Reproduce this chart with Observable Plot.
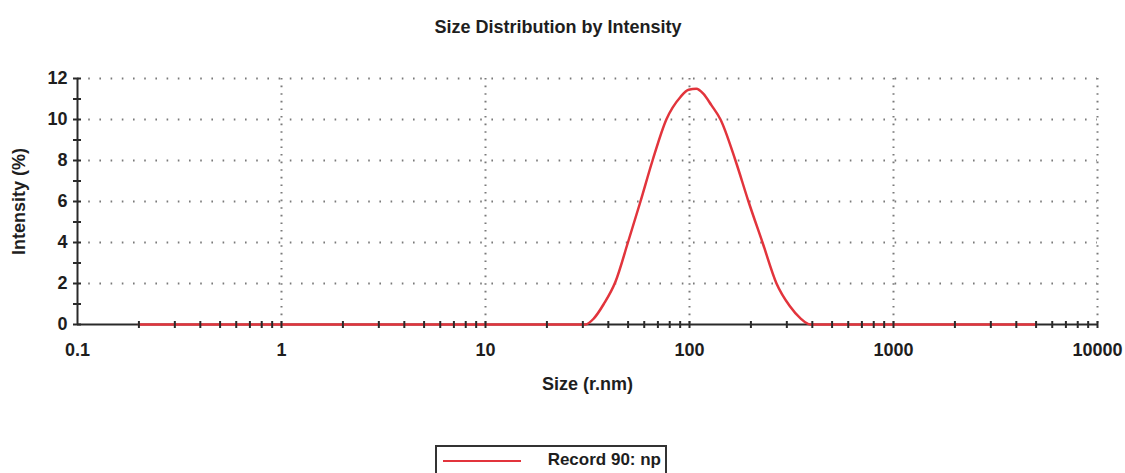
<!DOCTYPE html>
<html>
<head>
<meta charset="utf-8">
<script src="https://cdn.jsdelivr.net/npm/d3@7"></script>
<script src="https://cdn.jsdelivr.net/npm/@observablehq/plot@0.6"></script>
<style>
  html, body { margin: 0; padding: 0; background: #fff; }
  #wrap { position: relative; width: 1125px; height: 473px; overflow: hidden; font-family: "Liberation Sans", Arial, sans-serif; color: #1e1e1e; }
  #title { position: absolute; left: 0; top: 17px; width: 1116px; text-align: center; font-weight: bold; font-size: 18px; }
  #legend { position: absolute; left: 435px; top: 445px; width: 232px; height: 34px; border: 2px solid #333; box-sizing: border-box; }
  #legend .swatch { position: absolute; left: 6px; top: 13px; width: 78px; height: 0; border-top: 2.5px solid #e2343c; }
  #legend .lab { position: absolute; right: 4px; top: 3px; font-weight: bold; font-size: 17px; }
  #chart { position: absolute; left: 0; top: 0; }
</style>
</head>
<body>
<div id="wrap">
  <div id="chart"></div>
  <div id="title">Size Distribution by Intensity</div>
  <div id="legend"><div class="swatch"></div><div class="lab">Record 90: np</div></div>
</div>
<script>
// Data
const sizes = [0.2, 30.9, 34.0, 38.0, 43.4, 49.9, 57.5, 65.9, 77.0, 90.3, 99.0, 108.0, 117.1, 128, 141.9, 168, 194.6, 228, 267, 310, 350, 391, 5000];
const intensity = [0, 0, 0.3, 1.0, 2.1, 4.0, 6.0, 8.0, 10.0, 11.1, 11.45, 11.5, 11.25, 10.7, 10.0, 8.0, 6.0, 4.0, 2.0, 0.9, 0.3, 0, 0];
const xMajor = [0.1, 1, 10, 100, 1000, 10000];
const xMajorLabels = ["0.1", "1", "10", "100", "1000", "10000"];
const yMajor = [0, 2, 4, 6, 8, 10, 12];
const yAllTicks = [0, 1, 2, 3, 4, 5, 6, 7, 8, 9, 10, 11, 12];
const multipliers = [1, 2, 3, 4, 5, 6, 7, 8, 9];

const record = sizes.map((s, i) => ({size: s, value: intensity[i]}));
const xTicks = [];
for (const d of xMajor.slice(0, -1)) for (const m of multipliers) if (!(d === 0.1 && m === 1)) xTicks.push(+(d * m).toPrecision(3));
xTicks.push(10000);

const vDash = {draw(ctx) { ctx.moveTo(0, -3.5); ctx.lineTo(0, 3.5); }};
const hDash = {draw(ctx) { ctx.moveTo(-4.5, 0); ctx.lineTo(3.5, 0); }};

const fontStyle = {fontSize: 18, fontWeight: "bold", fill: "#1e1e1e"};

const chart = Plot.plot({
  width: 1125,
  height: 473,
  marginLeft: 77,
  marginRight: 28,
  marginTop: 78,
  marginBottom: 149,
  style: {fontFamily: "'Liberation Sans', Arial, sans-serif", background: "transparent", color: "#1e1e1e"},
  x: {type: "log", domain: [0.1, 10000]},
  y: {domain: [0, 12]},
  marks: [
    Plot.gridY(yMajor.slice(1), {stroke: "#7a7a7a", strokeOpacity: 1, strokeWidth: 2, strokeDasharray: "1.6,9.6"}),
    Plot.gridX(xMajor.slice(1), {stroke: "#7a7a7a", strokeOpacity: 1, strokeWidth: 2, strokeDasharray: "1.6,6"}),
    Plot.ruleY([0], {stroke: "#2a2a2a", strokeWidth: 2}),
    Plot.ruleX([0.1], {stroke: "#2a2a2a", strokeWidth: 2}),
    Plot.axisY({ticks: yMajor, tickSize: 0, tickPadding: 10, ...fontStyle, label: "Intensity (%)", labelAnchor: "center", labelOffset: 65, labelArrow: "none"}),
    Plot.axisX({ticks: xMajor, tickFormat: (d) => xMajorLabels[xMajor.indexOf(d)], tickSize: 0, tickPadding: 19, ...fontStyle, label: "Size (r.nm)", labelAnchor: "center", labelOffset: 65, labelArrow: "none"}),
    Plot.line(record, {x: "size", y: "value", stroke: "#e2343c", strokeWidth: 2.5, curve: "monotone-x"}),
    Plot.dot(xTicks, {x: (d) => d, y: () => 0, symbol: vDash, stroke: "#2a2a2a", strokeWidth: 2, r: 3}),
    Plot.dot(yAllTicks, {x: () => 0.1, y: (d) => d, symbol: hDash, stroke: "#2a2a2a", strokeWidth: 2, r: 3})
  ]
});
document.getElementById("chart").appendChild(chart);
</script>
</body>
</html>
